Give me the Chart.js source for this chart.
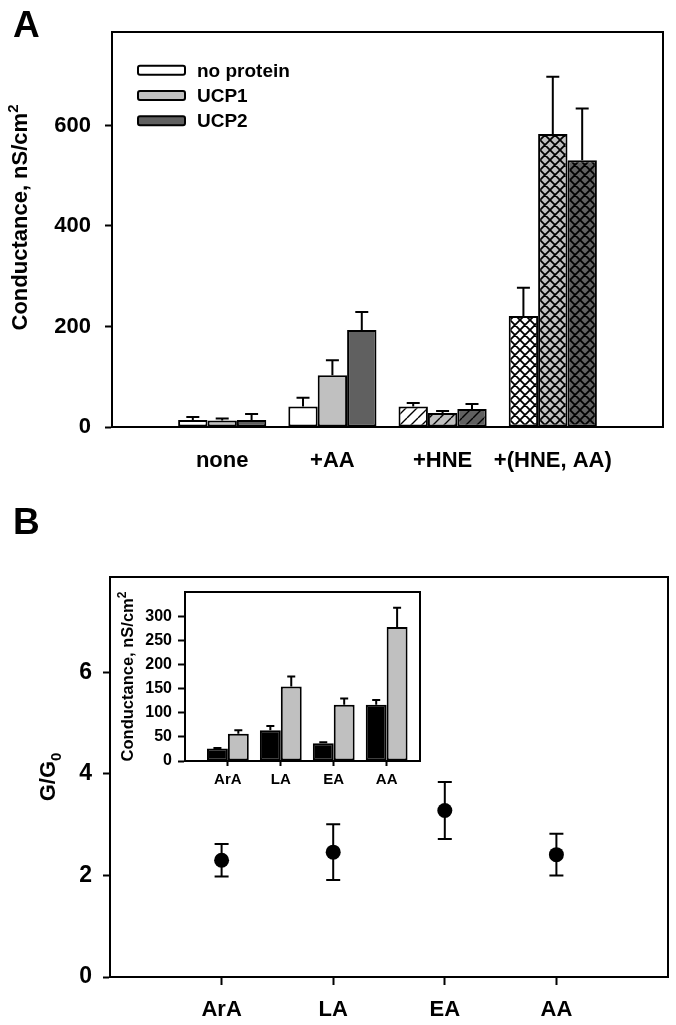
<!DOCTYPE html>
<html><head><meta charset="utf-8">
<script src="https://cdn.jsdelivr.net/npm/chart.js@4.4.0/dist/chart.umd.min.js"></script>
<style>
html,body{margin:0;padding:0;background:#fff;}
#wrap{position:relative;width:676px;height:1025px;overflow:hidden;background:#fff;}
canvas{position:absolute;}
</style></head><body>
<div id="wrap">
<canvas id="cA" width="676" height="490" style="left:0;top:0"></canvas>
<canvas id="cB" width="676" height="535" style="left:0;top:490px"></canvas>
<canvas id="cI" width="325" height="225" style="left:105px;top:575px"></canvas>
</div>
<script>
// ---------- Panel A data ----------
const treatments = ['none', '+AA', '+HNE', '+(HNE, AA)'];
const seriesA = ['no protein', 'UCP1', 'UCP2'];
const noProtein    = [14, 41, 41, 221];
const noProteinErr = [6, 17, 7, 56];
const ucp1         = [13, 103, 28, 583];
const ucp1Err      = [4, 30, 4, 114];
const ucp2         = [14, 193, 36, 531];
const ucp2Err      = [12, 36, 10, 103];
const yTicksA = [0, 200, 400, 600];

// ---------- Panel B data ----------
const acids = ['ArA', 'LA', 'EA', 'AA'];
const ratio    = [2.30, 2.46, 3.28, 2.41];
const ratioErr = [0.32, 0.55, 0.56, 0.41];
const yTicksB = [0, 2, 4, 6];

// ---------- Inset data ----------
const insetBlack    = [26, 64, 37, 117];
const insetBlackErr = [1, 9, 2, 10];
const insetGray     = [57, 155, 117, 279];
const insetGrayErr  = [7, 21, 13, 40];
const yTicksInset = [0, 50, 100, 150, 200, 250, 300];

// ---------- styling ----------
const FONT = "'Liberation Sans', Arial, Helvetica, sans-serif";
Chart.defaults.font.family = FONT;
Chart.defaults.font.weight = 'bold';
Chart.defaults.color = '#000';
Chart.defaults.animation = false;

const seriesColors = ['#ffffff', '#c0c0c0', '#606060'];
const fillKinds = ['solid', 'solid', 'hatch', 'cross'];

function fillFor(color, kind) {
  if (kind === 'solid') return color;
  const s = kind === 'hatch' ? 11 : 10;
  const c = document.createElement('canvas'); c.width = s; c.height = s;
  const g = c.getContext('2d');
  g.fillStyle = color; g.fillRect(0, 0, s, s);
  g.strokeStyle = '#000'; g.lineWidth = kind === 'hatch' ? 1.4 : 1.8;
  g.beginPath();
  for (const k of [-s, 0, s]) {
    g.moveTo(k, s); g.lineTo(k + s, 0);
    if (kind === 'cross') { g.moveTo(k, 0); g.lineTo(k + s, s); }
  }
  g.stroke();
  return g.createPattern(c, 'repeat');
}

function drawRotTitle(ctx, x, yc, main, extra, kind, size) {
  ctx.save();
  ctx.font = `bold ${size}px ${FONT}`;
  const w = ctx.measureText(main).width;
  const es = Math.round(size * 0.7);
  ctx.font = `bold ${es}px ${FONT}`;
  const we = ctx.measureText(extra).width;
  const total = w + we;
  ctx.translate(x, yc); ctx.rotate(-Math.PI / 2);
  ctx.fillStyle = '#000'; ctx.textAlign = 'left'; ctx.textBaseline = 'alphabetic';
  ctx.font = `bold ${size}px ${FONT}`;
  ctx.fillText(main, -total / 2, 0);
  ctx.font = `bold ${es}px ${FONT}`;
  ctx.fillText(extra, -total / 2 + w, kind === 'sup' ? -size * 0.42 : size * 0.25);
  ctx.restore();
}

const framePlugin = {
  id: 'frame',
  afterDatasetsDraw(chart) {
    const a = chart.chartArea, ctx = chart.ctx;
    ctx.save(); ctx.strokeStyle = '#000'; ctx.lineWidth = 2;
    ctx.strokeRect(a.left, a.top, a.right - a.left, a.bottom - a.top);
    ctx.restore();
  }
};

function upErrorPlugin(cap) {
  return {
    id: 'upErr',
    afterDatasetsDraw(chart) {
      const ctx = chart.ctx, ys = chart.scales.y;
      ctx.save(); ctx.strokeStyle = '#000'; ctx.lineWidth = 2;
      chart.data.datasets.forEach((ds, d) => {
        chart.getDatasetMeta(d).data.forEach((el, i) => {
          const yt = ys.getPixelForValue(ds.data[i].y + ds.errors[i]);
          ctx.beginPath();
          ctx.moveTo(el.x, el.y); ctx.lineTo(el.x, yt);
          ctx.moveTo(el.x - cap / 2, yt); ctx.lineTo(el.x + cap / 2, yt);
          ctx.stroke();
        });
      });
      ctx.restore();
    }
  };
}

// ---------- Chart A ----------
new Chart(document.getElementById('cA'), {
  type: 'bar',
  data: {
    datasets: seriesA.map((name, s) => ({
      label: name,
      data: [noProtein, ucp1, ucp2][s].map((v, i) => ({ x: i + 1, y: v })),
      errors: [noProteinErr, ucp1Err, ucp2Err][s],
      legendColor: seriesColors[s],
      backgroundColor: fillKinds.map(k => fillFor(seriesColors[s], k)),
      borderColor: '#000', borderWidth: 2, borderSkipped: false,
      categoryPercentage: 0.8, barPercentage: 1.0
    }))
  },
  options: {
    responsive: false, devicePixelRatio: 1, events: [],
    layout: { padding: { left: 0, top: 32, right: 13, bottom: 0 } },
    plugins: { legend: { display: false }, tooltip: { enabled: false } },
    scales: {
      x: {
        type: 'linear', min: 0, max: 5, offset: false,
        afterBuildTicks: s => { s.ticks = treatments.map((_, i) => ({ value: i + 1 })); },
        afterFit: s => { s.height = 63; },
        ticks: { autoSkip: false, maxRotation: 0, padding: 13, font: { size: 22, weight: 'bold' },
                 callback: v => treatments[v - 1] ?? '' },
        grid: { display: false, offset: false },
        border: { display: true, color: '#000', width: 2 }
      },
      y: {
        min: 0, max: 786,
        afterBuildTicks: s => { s.ticks = yTicksA.map(v => ({ value: v })); },
        afterFit: s => { s.width = 112; },
        ticks: { padding: 14, font: { size: 22, weight: 'bold' } },
        grid: { drawOnChartArea: false, tickLength: 7, tickWidth: 2, tickColor: '#000', color: '#000' },
        border: { display: true, color: '#000', width: 2 }
      }
    }
  },
  plugins: [framePlugin, upErrorPlugin(13), {
    id: 'decoA',
    afterDraw(chart) {
      const ctx = chart.ctx, a = chart.chartArea;
      ctx.save();
      ctx.fillStyle = '#000'; ctx.textAlign = 'left'; ctx.textBaseline = 'alphabetic';
      ctx.font = `bold 37px ${FONT}`; ctx.fillText('A', 13, 37);
      // legend
      chart.data.datasets.forEach((ds, i) => {
        const yc = 70.3 + i * 25.2;
        ctx.beginPath();
        ctx.roundRect(138, yc - 4.5, 47, 9, 2);
        ctx.fillStyle = ds.legendColor; ctx.fill();
        ctx.lineWidth = 2; ctx.strokeStyle = '#000'; ctx.stroke();
        ctx.fillStyle = '#000'; ctx.font = `bold 19px ${FONT}`; ctx.textBaseline = 'middle';
        ctx.fillText(ds.label, 197, yc + 1.5);
      });
      ctx.restore();
      drawRotTitle(ctx, 27, (a.top + a.bottom) / 2 - 12, 'Conductance, nS/cm', '2', 'sup', 22);
    }
  }]
});

// ---------- Chart B ----------
new Chart(document.getElementById('cB'), {
  type: 'scatter',
  data: {
    datasets: [{
      data: ratio.map((v, i) => ({ x: i + 1, y: v })),
      errors: ratioErr,
      pointRadius: 7.5, pointBackgroundColor: '#000', pointBorderColor: '#000', pointBorderWidth: 0,
      showLine: false
    }]
  },
  options: {
    responsive: false, devicePixelRatio: 1, events: [],
    layout: { padding: { left: 0, top: 87, right: 8, bottom: 0 } },
    plugins: { legend: { display: false }, tooltip: { enabled: false } },
    scales: {
      x: {
        type: 'linear', min: 0, max: 5, offset: false,
        afterBuildTicks: s => { s.ticks = acids.map((_, i) => ({ value: i + 1 })); },
        afterFit: s => { s.height = 48; },
        ticks: { autoSkip: false, maxRotation: 0, padding: 12, font: { size: 22, weight: 'bold' },
                 callback: v => acids[v - 1] ?? '' },
        grid: { drawOnChartArea: false, offset: false, tickLength: 8, tickWidth: 2, tickColor: '#000', color: '#000' },
        border: { display: true, color: '#000', width: 2 }
      },
      y: {
        min: 0, max: 7.88,
        afterBuildTicks: s => { s.ticks = yTicksB.map(v => ({ value: v })); },
        afterFit: s => { s.width = 110; },
        ticks: { padding: 11, font: { size: 23, weight: 'bold' } },
        grid: { drawOnChartArea: false, tickLength: 7, tickWidth: 2, tickColor: '#000', color: '#000' },
        border: { display: true, color: '#000', width: 2 }
      }
    }
  },
  plugins: [framePlugin, {
    id: 'errB',
    beforeDatasetsDraw(chart) {
      const ctx = chart.ctx, ys = chart.scales.y, ds = chart.data.datasets[0];
      ctx.save(); ctx.strokeStyle = '#000'; ctx.lineWidth = 2;
      chart.getDatasetMeta(0).data.forEach((el, i) => {
        const y1 = ys.getPixelForValue(ds.data[i].y + ds.errors[i]);
        const y2 = ys.getPixelForValue(ds.data[i].y - ds.errors[i]);
        ctx.beginPath();
        ctx.moveTo(el.x, y1); ctx.lineTo(el.x, y2);
        ctx.moveTo(el.x - 7, y1); ctx.lineTo(el.x + 7, y1);
        ctx.moveTo(el.x - 7, y2); ctx.lineTo(el.x + 7, y2);
        ctx.stroke();
      });
      ctx.restore();
    },
    afterDraw(chart) {
      const ctx = chart.ctx, a = chart.chartArea;
      ctx.save();
      ctx.fillStyle = '#000'; ctx.textAlign = 'left'; ctx.textBaseline = 'alphabetic';
      ctx.font = `bold 37px ${FONT}`; ctx.fillText('B', 13, 44);
      ctx.restore();
      drawRotTitle(ctx, 55, (a.top + a.bottom) / 2, 'G/G', '0', 'sub', 22);
    }
  }]
});

// ---------- Inset ----------
new Chart(document.getElementById('cI'), {
  type: 'bar',
  data: {
    datasets: [
      { data: insetBlack.map((v, i) => ({ x: i + 1, y: v })), errors: insetBlackErr,
        backgroundColor: '#000000', borderColor: '#000', borderWidth: 2, borderSkipped: false,
        categoryPercentage: 0.79, barPercentage: 1.0 },
      { data: insetGray.map((v, i) => ({ x: i + 1, y: v })), errors: insetGrayErr,
        backgroundColor: '#c0c0c0', borderColor: '#000', borderWidth: 2, borderSkipped: false,
        categoryPercentage: 0.79, barPercentage: 1.0 }
    ]
  },
  options: {
    responsive: false, devicePixelRatio: 1, events: [],
    layout: { padding: { left: 0, top: 17, right: 10, bottom: 0 } },
    plugins: { legend: { display: false }, tooltip: { enabled: false } },
    scales: {
      x: {
        type: 'linear', min: 0.19, max: 4.63, offset: false,
        afterBuildTicks: s => { s.ticks = acids.map((_, i) => ({ value: i + 1 })); },
        afterFit: s => { s.height = 39; },
        ticks: { autoSkip: false, maxRotation: 0, padding: 5, font: { size: 15, weight: 'bold' },
                 callback: v => acids[v - 1] ?? '' },
        grid: { drawOnChartArea: false, offset: false, tickLength: 5, tickWidth: 2, tickColor: '#000', color: '#000' },
        border: { display: true, color: '#000', width: 2 }
      },
      y: {
        min: 0, max: 352,
        afterBuildTicks: s => { s.ticks = yTicksInset.map(v => ({ value: v })); },
        afterFit: s => { s.width = 80; },
        ticks: { padding: 6, font: { size: 16, weight: 'bold' } },
        grid: { drawOnChartArea: false, tickLength: 7, tickWidth: 2, tickColor: '#000', color: '#000' },
        border: { display: true, color: '#000', width: 2 }
      }
    }
  },
  plugins: [framePlugin, upErrorPlugin(8), {
    id: 'decoI',
    afterDraw(chart) {
      const a = chart.chartArea;
      drawRotTitle(chart.ctx, 28, (a.top + a.bottom) / 2, 'Conductance, nS/cm', '2', 'sup', 16.5);
    }
  }]
});
</script>
</body></html>
